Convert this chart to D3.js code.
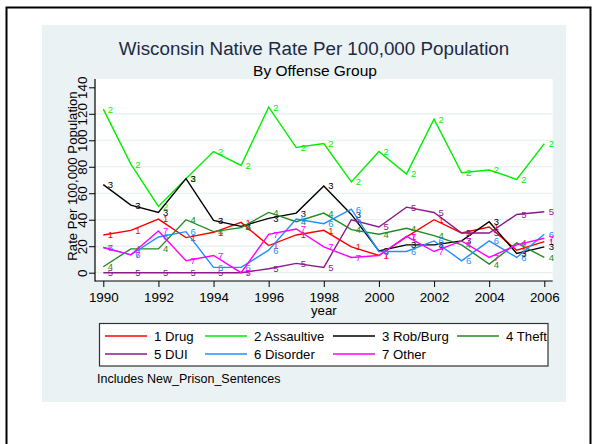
<!DOCTYPE html>
<html><head><meta charset="utf-8">
<script src="https://cdn.jsdelivr.net/npm/d3@7"></script>
<style>body{margin:0;background:#fff}svg{display:block;font-family:"Liberation Sans",Arial,sans-serif}</style>
</head><body><svg id="c" width="596" height="444"></svg>
<script>
const years = [1990,1991,1992,1993,1994,1995,1996,1997,1998,1999,2000,2001,2002,2003,2004,2005,2006];
const drug       = [28.5,32,40.5,26.5,30.5,38,20.5,28.5,32,19.5,13,27,40,30,34.5,17,23.5];
const assaultive = [123.5,82,50,71,91.5,81,125,94.5,97.5,68.5,91.5,74.5,116,75.5,77.5,70.5,97.5];
const robBurg    = [66.5,51,45.5,71,39.5,35,41,45,65.5,44,16.5,21,21,24,38.5,14.5,19.5];
const theft      = [4.5,18,18,40,31,34,45.5,38.5,45,32.5,29,33.5,28,21,6.5,22.5,11.5];
const dui        = [0,0,0,0,0,0,3,7,4,40,34.5,49.5,45.5,30,30,44,46];
const disorder   = [19,13.5,27,31,4,4,17,40.5,37,48,16,16,24,9,24,11.5,29];
const other      = [19,13.5,31.5,9,13,0,29,33,19.5,11.5,13,27.5,16,24,11.5,21,26];
const seriesNames = ["1 Drug","2 Assaultive","3 Rob/Burg","4 Theft","5 DUI","6 Disorder","7 Other"];
const seriesLabels = ["1","2","3","4","5","6","7"];
const seriesColors = ["#ff0000","#00ee00","#000000","#228b22","#8b1a8b","#1e90ff","#ff00ff"];
const yTicks = [0,20,40,60,80,100,120,140];
const xTicks = [1990,1992,1994,1996,1998,2000,2002,2004,2006];
const titleText = "Wisconsin Native Rate Per 100,000 Population";
const subtitleText = "By Offense Group";
const yTitle = "Rate Per 100,000 Population";
const xTitle = "year";
const noteText = "Includes New_Prison_Sentences";

const allSeries = [drug,assaultive,robBurg,theft,dui,disorder,other];
const svg = d3.select("#c");

// outer border and graph region
svg.append("rect").attr("x",6.5).attr("y",7.5).attr("width",584).attr("height",460)
  .attr("fill","#fff").attr("stroke","#000").attr("stroke-width",2);
svg.append("rect").attr("x",42).attr("y",25).attr("width",524).attr("height",377).attr("fill","#eaf2f3");

const P = {l:95,r:552.7,t:79,b:281};
svg.append("rect").attr("x",P.l).attr("y",P.t).attr("width",P.r-P.l).attr("height",P.b-P.t).attr("fill","#fff");

const x = d3.scaleLinear().domain([1990,2006]).range([103.3,544.3]);
const y = d3.scaleLinear().domain([0,140]).range([272.7,87.3]);

// gridlines
svg.append("g").selectAll("line").data(yTicks.filter(v=>v<140)).join("line")
  .attr("x1",P.l).attr("x2",P.r).attr("y1",d=>y(d)).attr("y2",d=>y(d))
  .attr("stroke","#e6eef0").attr("stroke-width",1.2);

// axes
const yAxis = d3.axisLeft(y).tickValues(yTicks).tickSize(6).tickPadding(2);
const gy = svg.append("g").attr("transform",`translate(${P.l},0)`).call(yAxis);
gy.select(".domain").remove();
gy.selectAll(".tick line").attr("stroke","#000");
gy.selectAll(".tick text").attr("transform","rotate(-90)").attr("x",0).attr("y",-8.5)
  .attr("dy",0).attr("text-anchor","middle").style("font-size","13.4px").attr("fill","#000");

const xAxis = d3.axisBottom(x).tickValues(xTicks).tickFormat(d3.format("d")).tickSize(6).tickPadding(4);
const gx = svg.append("g").attr("transform",`translate(0,${P.b})`).call(xAxis);
gx.select(".domain").remove();
gx.selectAll(".tick text").style("font-size","13.4px").attr("fill","#000").attr("dy","0.85em");
gx.selectAll(".tick line").attr("stroke","#000");

svg.append("line").attr("x1",P.l).attr("x2",P.l).attr("y1",P.t).attr("y2",P.b+0.5).attr("stroke","#000").attr("stroke-width",1.2);
svg.append("line").attr("x1",P.l).attr("x2",P.r).attr("y1",P.b).attr("y2",P.b).attr("stroke","#000").attr("stroke-width",1.2);

// series
const line = d3.line().x((d,i)=>x(years[i])).y(d=>y(d));
allSeries.forEach((s,k)=>{
  svg.append("path").datum(s).attr("d",line).attr("fill","none")
    .attr("stroke",seriesColors[k]).attr("stroke-width",1.4).attr("stroke-linejoin","miter");
  svg.append("g").selectAll("text").data(s).join("text")
    .attr("x",(d,i)=>x(years[i])+4.5).attr("y",d=>y(d)).attr("dy","0.36em")
    .attr("fill",seriesColors[k]).style("font-size","9.5px").text(seriesLabels[k]);
});

// titles
svg.append("text").attr("x",314).attr("y",55).attr("text-anchor","middle")
  .style("font-size","18.8px").attr("fill","#1e2a44").text(titleText);
svg.append("text").attr("x",315).attr("y",76).attr("text-anchor","middle")
  .style("font-size","15.5px").attr("fill","#000").text(subtitleText);
svg.append("text").attr("transform",`translate(76.5,176) rotate(-90)`).attr("text-anchor","middle")
  .style("font-size","13.2px").attr("fill","#000").text(yTitle);
svg.append("text").attr("x",(P.l+P.r)/2).attr("y",315).attr("text-anchor","middle")
  .style("font-size","13.2px").attr("fill","#000").text(xTitle);

// legend
svg.append("rect").attr("x",99.5).attr("y",323.5).attr("width",448.5).attr("height",42.5)
  .attr("fill","#fff").attr("stroke","#333").attr("stroke-width",1.2);
const colX = [105,205,333,457];
const rowY = [336,354];
seriesNames.forEach((n,k)=>{
  const cx = colX[k%4], cy = rowY[Math.floor(k/4)];
  svg.append("line").attr("x1",cx).attr("x2",cx+42).attr("y1",cy).attr("y2",cy)
    .attr("stroke",seriesColors[k]).attr("stroke-width",1.4);
  svg.append("text").attr("x",cx+49).attr("y",cy).attr("dy","0.36em")
    .style("font-size","13.2px").attr("fill","#000").text(n);
});
svg.append("text").attr("x",97).attr("y",383).style("font-size","12.5px").attr("fill","#000").text(noteText);
</script></body></html>
